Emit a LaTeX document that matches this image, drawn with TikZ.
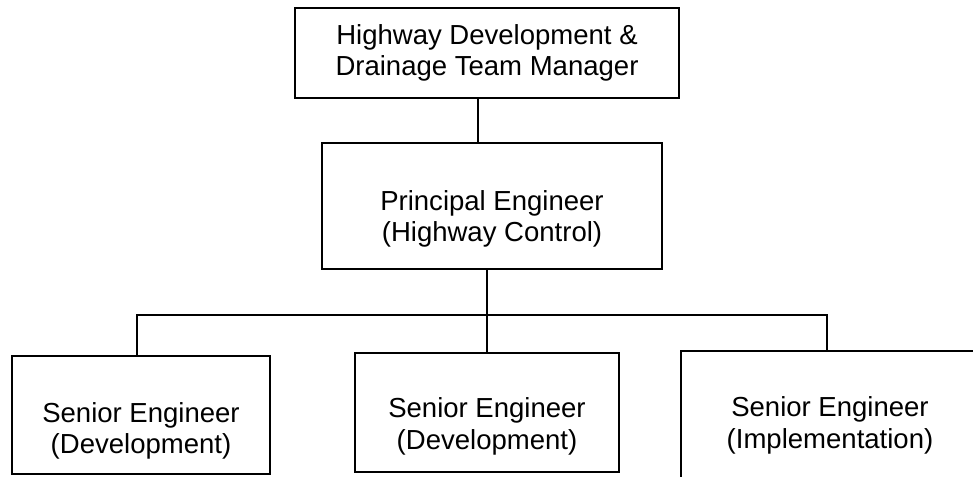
\documentclass[tikz,border=0pt]{standalone}
\usepackage{fontspec}
\setmainfont{Liberation Sans}

\begin{document}
\begin{tikzpicture}
        [x=0.3mm, y=-0.3mm, line width=0.45mm, every node/.style={draw, shape=rectangle, align=center, inner sep=0, font=\fontsize{23.5pt}{27pt}\selectfont}]

        \useasboundingbox (0, 0) rectangle (973, 477);
        \clip (0, 0) rectangle (973, 477);

        \node[minimum width=115.2mm, minimum height=27mm] (mgr) at (487, 53) {Highway Development \&\\Drainage Team Manager};
        \node[minimum width=102mm, minimum height=37.8mm] (pe) at (492, 206) {\rule{0pt}{13.7mm}Principal Engineer\\(Highway Control)};
        \node[minimum width=77.4mm, minimum height=35.4mm] (se1) at (141, 415) {\rule{0pt}{15.5mm}Senior Engineer\\(Development)};
        \node[minimum width=79.2mm, minimum height=35.7mm] (se2) at (487, 412.5) {\rule{0pt}{14.4mm}Senior Engineer\\(Development)};
        \node[minimum width=89.4mm, minimum height=44.7mm] (se3) at (830, 425.5) {Senior Engineer\\(Implementation)};

        \coordinate (bus) at (487, 315);

        \draw ([xshift=-2.7mm]mgr.south) -- ([xshift=-2.7mm]mgr.south |- pe.north);
        \draw (pe.south -| se2.north) -- (se2.north);
        \draw ([xshift=-1.2mm]se1.north) |- (bus) -| ([xshift=-0.9mm]se3.north);

      \end{tikzpicture}
\end{document}
